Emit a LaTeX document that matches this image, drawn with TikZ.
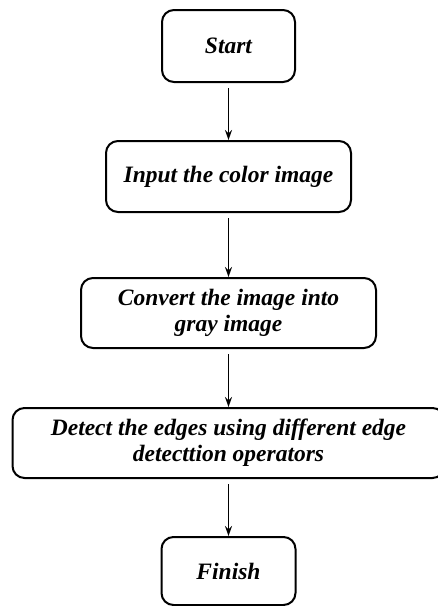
\documentclass[tikz,border=0pt]{standalone}
\usepackage{fontspec}
\setmainfont{Liberation Serif}
\usetikzlibrary{arrows.meta}
\begin{document}
\begin{tikzpicture}[x=1pt,y=-1pt,
  stepbox/.style={draw=black, line width=2pt, rounded corners=12pt, inner sep=0pt,
    align=center, font=\fontsize{23.5}{26}\selectfont\bfseries\itshape},
  flow/.style={line width=1.8pt, -{Stealth[length=10pt,width=7pt]}, shorten <=5pt}]
\useasboundingbox (0,0) rectangle (438,606);
\node[stepbox, minimum width=133pt, minimum height=72pt] (start) at (228.5,46) {Start};
\node[stepbox, minimum width=245pt, minimum height=71pt] (input) at (228.5,176.5) {Input the color image};
\node[stepbox, minimum width=295pt, minimum height=70pt] (convert) at (228.5,313) {Convert the image into\\gray image};
\node[stepbox, minimum width=432pt, minimum height=70pt] (detect) at (228.5,443) {Detect the edges using different edge\\detecttion operators};
\node[stepbox, minimum width=134pt, minimum height=68pt] (finish) at (228.5,571) {Finish};
\draw[flow] (start.south) -- (input.north);
\draw[flow] (input.south) -- (convert.north);
\draw[flow] (convert.south) -- (detect.north);
\draw[flow] (detect.south) -- (finish.north);
\end{tikzpicture}
\end{document}
